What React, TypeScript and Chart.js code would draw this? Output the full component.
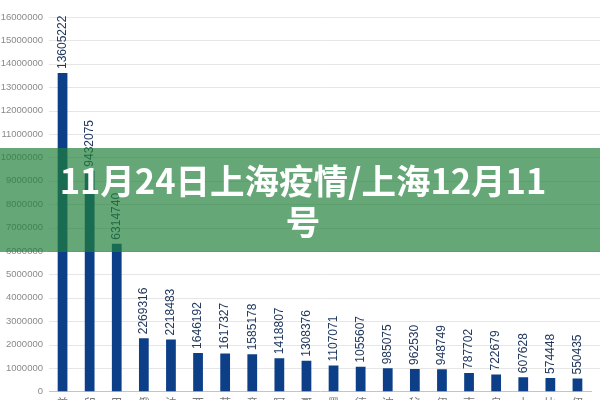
import { useEffect, useRef } from "react"
import { Chart, registerables } from "chart.js"

Chart.register(...registerables)

// countries (labels are stacked one character per line, like the source)
const countries = [
  "美国", "印度", "巴西", "俄罗斯", "法国", "西班牙", "英国", "意大利", "阿根廷", "哥伦比亚",
  "墨西哥", "德国", "波兰", "秘鲁", "伊朗", "南非", "乌克兰", "土耳其", "比利时", "伊拉克",
]

// cumulative cases
const cases = [
  13605222, 9432075, 6314740, 2269316, 2218483, 1646192, 1617327, 1585178, 1418807, 1308376,
  1107071, 1055607, 985075, 962530, 948749, 787702, 722679, 607628, 574448, 550435,
]

const yMax = 16000000
const yStep = 1000000

const bannerText = ["11月24日上海疫情/上海12月11", "号"]

// draws the value above each bar, rotated to read bottom-up
const valueLabels = {
  id: "valueLabels",
  afterDatasetsDraw(chart: Chart) {
    const ctx = chart.ctx
    const meta = chart.getDatasetMeta(0)
    ctx.save()
    ctx.font = "12px 'Liberation Sans', Arial, sans-serif"
    ctx.fillStyle = "#22395e"
    ctx.textAlign = "left"
    ctx.textBaseline = "middle"
    meta.data.forEach((bar: any, i: number) => {
      ctx.save()
      ctx.translate(bar.x, bar.y - 4)
      ctx.rotate(-Math.PI / 2)
      ctx.fillText(String(cases[i]), 0, 0)
      ctx.restore()
    })
    ctx.restore()
  },
}

// horizontal grid lines that run on to the right edge of the canvas
const wideGrid = {
  id: "wideGrid",
  beforeDatasetsDraw(chart: Chart) {
    const ctx = chart.ctx
    const y = chart.scales.y
    ctx.save()
    ctx.strokeStyle = "#e6e6e6"
    ctx.lineWidth = 1
    y.ticks.forEach((t) => {
      if (t.value === 0) return
      const py = Math.round(y.getPixelForValue(t.value)) + 0.5
      ctx.beginPath()
      ctx.moveTo(chart.chartArea.left, py)
      ctx.lineTo(chart.width, py)
      ctx.stroke()
    })
    ctx.restore()
  },
}

export default function App() {
  const chartRef = useRef<HTMLCanvasElement>(null)
  const chartInstance = useRef<Chart | null>(null)

  useEffect(() => {
    if (!chartRef.current) return
    if (chartInstance.current) chartInstance.current.destroy()

    chartInstance.current = new Chart(chartRef.current, {
      type: "bar",
      data: {
        labels: countries.map((c) => c.split("")),
        datasets: [
          {
            data: cases,
            backgroundColor: "#0c3f88",
            barPercentage: 0.36,
            categoryPercentage: 1,
          },
        ],
      },
      options: {
        responsive: true,
        maintainAspectRatio: false,
        animation: false,
        layout: { padding: { top: 17, right: 9, bottom: 2, left: 0 } },
        plugins: {
          legend: { display: false },
          tooltip: { enabled: false },
        },
        scales: {
          x: {
            grid: { display: false, drawTicks: false },
            border: { display: true, color: "#c4c4c4" },
            ticks: {
              padding: 5,
              maxRotation: 0,
              autoSkip: false,
              color: "#777",
              font: { family: "'Noto Sans CJK SC', sans-serif", size: 12 },
            },
          },
          y: {
            min: 0,
            max: yMax,
            grid: { display: false, drawTicks: false },
            border: { display: false },
            afterFit: (scale) => {
              scale.width = 49
            },
            ticks: {
              stepSize: yStep,
              padding: 6,
              color: "#8a8a8a",
              font: { family: "'Liberation Sans', Arial, sans-serif", size: 9.5 },
              callback: (v) => String(v),
            },
          },
        },
      },
      plugins: [wideGrid, valueLabels],
    })

    return () => {
      if (chartInstance.current) {
        chartInstance.current.destroy()
        chartInstance.current = null
      }
    }
  }, [])

  return (
    <div
      style={{
        position: "fixed",
        left: 0,
        top: 0,
        width: 600,
        height: 400,
        overflow: "hidden",
        background: "#fff",
      }}
    >
      <div style={{ position: "absolute", left: 0, top: 0, width: 600, height: 461 }}>
        <canvas ref={chartRef} />
      </div>
      <div
        style={{
          position: "absolute",
          left: 0,
          top: 148,
          width: 600,
          height: 104,
          boxSizing: "border-box",
          paddingLeft: 6,
          background: "rgba(32, 128, 57, 0.69)",
          display: "flex",
          flexDirection: "column",
          alignItems: "center",
          justifyContent: "center",
          color: "#fff",
          fontFamily: "'Noto Sans CJK SC', sans-serif",
          fontWeight: 700,
          fontSize: 34.5,
          lineHeight: "41px",
          textAlign: "center",
        }}
      >
        {bannerText.map((line, i) => (
          <div key={i}>{line}</div>
        ))}
      </div>
    </div>
  )
}
